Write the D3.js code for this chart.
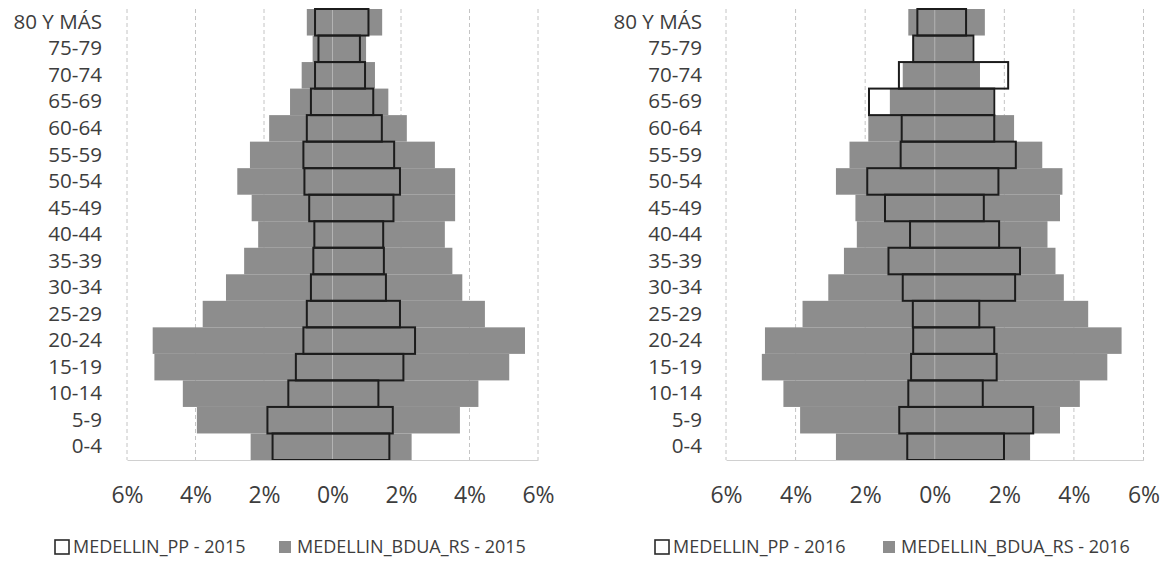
<!DOCTYPE html>
<html>
<head>
<meta charset="utf-8">
<script src="https://cdn.jsdelivr.net/npm/d3@7"></script>
<style>
  body { margin: 0; background: #ffffff; }
  svg { display: block; font-family: "Open Sans", "Liberation Sans", Arial, sans-serif; }
</style>
</head>
<body>
<svg id="chart" width="1165" height="562"></svg>
<script>
// Age groups (bottom to top)
const categorias = ['0-4', '5-9', '10-14', '15-19', '20-24', '25-29', '30-34', '35-39', '40-44',
  '45-49', '50-54', '55-59', '60-64', '65-69', '70-74', '75-79', '80 Y MÁS'];

const ticks = [-6, -4, -2, 0, 2, 4, 6];

// 2015 - percentages, left side and right side of the pyramid
const bdua2015Izq = [2.39, 3.96, 4.37, 5.20, 5.25, 3.79, 3.11, 2.58, 2.17, 2.36, 2.78, 2.41, 1.85, 1.24, 0.90, 0.58, 0.75];
const bdua2015Der = [2.31, 3.72, 4.26, 5.16, 5.62, 4.45, 3.79, 3.50, 3.28, 3.58, 3.58, 2.99, 2.17, 1.63, 1.24, 0.98, 1.45];
const pp2015Izq = [1.75, 1.90, 1.29, 1.07, 0.85, 0.75, 0.63, 0.56, 0.53, 0.68, 0.82, 0.85, 0.75, 0.63, 0.51, 0.41, 0.51];
const pp2015Der = [1.66, 1.76, 1.34, 2.07, 2.41, 1.97, 1.56, 1.50, 1.48, 1.78, 1.97, 1.80, 1.44, 1.19, 0.95, 0.80, 1.05];

// 2016
const bdua2016Izq = [2.84, 3.87, 4.35, 4.97, 4.88, 3.80, 3.06, 2.61, 2.24, 2.28, 2.84, 2.45, 1.91, 1.29, 0.92, 0.60, 0.76];
const bdua2016Der = [2.74, 3.60, 4.17, 4.96, 5.37, 4.41, 3.71, 3.47, 3.24, 3.60, 3.67, 3.09, 2.28, 1.68, 1.30, 1.08, 1.44];
const pp2016Izq = [0.79, 1.02, 0.76, 0.68, 0.62, 0.63, 0.92, 1.33, 0.71, 1.43, 1.94, 0.98, 0.95, 1.89, 1.03, 0.62, 0.50];
const pp2016Der = [1.99, 2.83, 1.38, 1.78, 1.71, 1.28, 2.31, 2.45, 1.85, 1.41, 1.83, 2.33, 1.71, 1.71, 2.11, 1.11, 0.90];

const svg = d3.select('#chart');
const textColor = '#3d3d3d';
const grayFill = '#8d8d8d';

function drawPyramid(opts) {
  const { x0, x1, labelX, bduaIzq, bduaDer, ppIzq, ppDer, legendX, year } = opts;
  const top = 9, bottom = 460;

  const x = d3.scaleLinear().domain([-6, 6]).range([x0, x1]);
  const y = d3.scaleBand().domain(categorias).range([bottom, top]).padding(0);

  const g = svg.append('g');

  // Dashed vertical gridlines
  g.append('g')
    .selectAll('line')
    .data(ticks.filter(t => t !== 0))
    .enter()
    .append('line')
    .attr('x1', d => x(d))
    .attr('x2', d => x(d))
    .attr('y1', top)
    .attr('y2', bottom)
    .attr('stroke', '#c4c4c4')
    .attr('stroke-width', 1)
    .attr('stroke-dasharray', '4,3');

  const rows = categorias.map((c, i) => ({
    cat: c, bi: bduaIzq[i], bd: bduaDer[i], pi: ppIzq[i], pd: ppDer[i]
  }));

  // BDUA_RS gray bars
  g.append('g')
    .selectAll('rect')
    .data(rows)
    .enter()
    .append('rect')
    .attr('x', d => x(-d.bi))
    .attr('y', d => y(d.cat))
    .attr('width', d => x(d.bd) - x(-d.bi))
    .attr('height', y.bandwidth())
    .attr('fill', grayFill);

  // zero axis line
  g.append('line')
    .attr('x1', x(0))
    .attr('x2', x(0))
    .attr('y1', top)
    .attr('y2', bottom)
    .attr('stroke', '#b3b3b3')
    .attr('stroke-width', 1);

  // PP outlined bars
  g.append('g')
    .selectAll('rect')
    .data(rows)
    .enter()
    .append('rect')
    .attr('x', d => x(-d.pi))
    .attr('y', d => y(d.cat))
    .attr('width', d => x(d.pd) - x(-d.pi))
    .attr('height', y.bandwidth())
    .attr('fill', 'none')
    .attr('stroke', '#1c1c1c')
    .attr('stroke-width', 2);

  // Y axis labels
  const yAxis = g.append('g')
    .attr('transform', `translate(${labelX},0)`)
    .call(d3.axisLeft(y).tickSize(0).tickPadding(0));
  yAxis.select('.domain').remove();
  yAxis.selectAll('text')
    .style('font-size', '20.6px')
    .style('font-family', '"Open Sans", "Liberation Sans", Arial, sans-serif')
    .attr('fill', textColor);

  // X axis
  const xAxis = g.append('g')
    .attr('transform', `translate(0,${bottom})`)
    .call(d3.axisBottom(x).tickValues(ticks).tickFormat(d => Math.abs(d) + '%').tickSize(0).tickPadding(27));
  xAxis.select('.domain').attr('stroke', '#d0d0d0');
  xAxis.selectAll('text')
    .style('font-size', '23px')
    .style('font-family', '"Open Sans", "Liberation Sans", Arial, sans-serif')
    .attr('fill', textColor);

  // Legend
  const legend = g.append('g').attr('transform', `translate(${legendX},547)`);
  legend.append('rect')
    .attr('x', 1).attr('y', -7).attr('width', 14).attr('height', 14)
    .attr('fill', '#ffffff').attr('stroke', '#2a2a2a').attr('stroke-width', 1.6);
  legend.append('text')
    .attr('x', 19).attr('y', 0).attr('dy', '0.35em')
    .style('font-size', '18px')
    .attr('fill', textColor)
    .text(`MEDELLIN_PP - ${year}`);
  legend.append('rect')
    .attr('x', opts.legendGap + 2).attr('y', -6).attr('width', 12).attr('height', 12)
    .attr('fill', grayFill);
  legend.append('text')
    .attr('x', opts.legendGap + 20).attr('y', 0).attr('dy', '0.35em')
    .style('font-size', '18px')
    .attr('fill', textColor)
    .text(`MEDELLIN_BDUA_RS - ${year}`);
}

drawPyramid({
  x0: 127, x1: 538, labelX: 102,
  bduaIzq: bdua2015Izq, bduaDer: bdua2015Der, ppIzq: pp2015Izq, ppDer: pp2015Der,
  legendX: 54, legendGap: 223, year: '2015'
});

drawPyramid({
  x0: 726, x1: 1143.5, labelX: 702,
  bduaIzq: bdua2016Izq, bduaDer: bdua2016Der, ppIzq: pp2016Izq, ppDer: pp2016Der,
  legendX: 654, legendGap: 227, year: '2016'
});
</script>
</body>
</html>
